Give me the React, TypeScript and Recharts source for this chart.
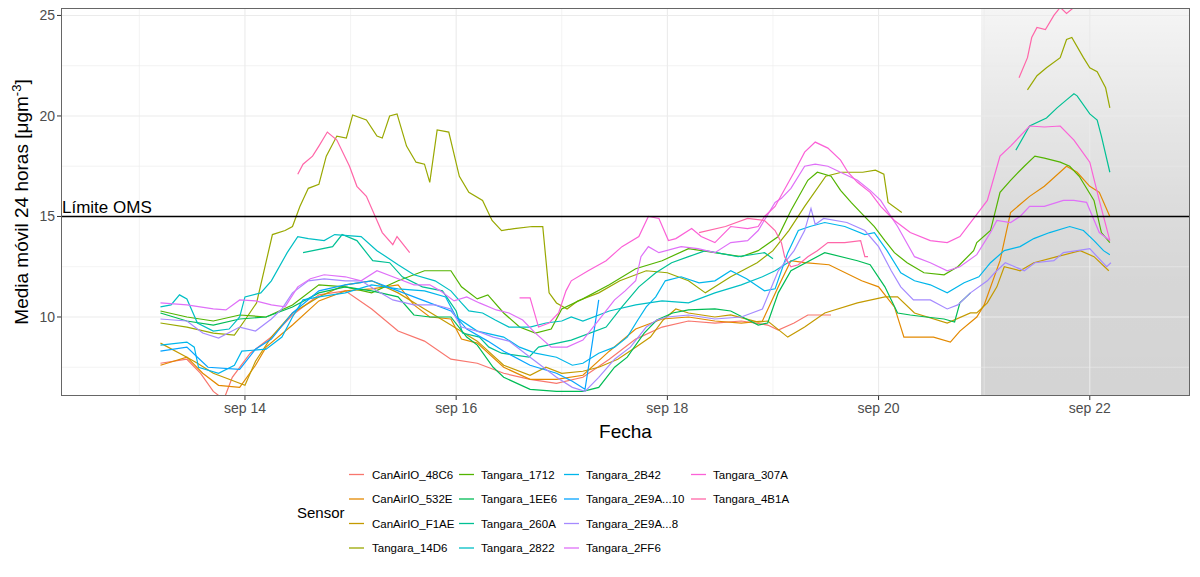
import React from "react";
import { LineChart, Line, XAxis, YAxis, ReferenceLine, ReferenceArea } from "recharts";

// Rolling 24 h mean per sensor, [day of September, µg/m³]; null breaks the line.
type Pt = [number, number | null];

const canairio48C6: Pt[] = [[13.2,7.7],[13.45,7.9],[13.58,7.2],[13.7,6.3],[13.8,5.9],[13.88,7.0],[14.05,8.2],[14.25,9.0],[14.45,10.1],[14.7,11.1],[14.95,11.3],[15.2,10.4],[15.45,9.3],[15.7,8.8],[15.95,7.9],[16.2,7.7],[16.45,7.2],[16.7,6.9],[16.95,6.7],[17.2,7.0],[17.45,7.9],[17.7,8.9],[17.95,9.5],[18.2,9.8],[18.45,9.7],[18.7,9.8],[18.95,9.6],[19.05,9.35],[19.2,9.7],[19.33,10.1],[19.55,10.1]];

const canairio532E: Pt[] = [[13.2,7.6],[13.45,8.0],[13.6,7.2],[13.75,6.6],[13.95,6.5],[14.1,7.6],[14.2,8.5],[14.45,9.6],[14.7,10.8],[14.95,11.3],[15.2,11.4],[15.45,11.6],[15.6,10.6],[15.75,10.0],[15.95,9.9],[16.05,8.9],[16.2,8.7],[16.45,7.5],[16.7,6.9],[16.95,6.9],[17.2,7.1],[17.45,8.3],[17.7,9.4],[17.95,9.9],[18.2,10.0],[18.45,9.8],[18.7,9.7],[18.9,9.8],[19.05,11.5],[19.17,12.8],[19.3,12.7],[19.53,12.6],[19.84,11.8],[20.0,11.5],[20.15,10.5],[20.24,9.0],[20.37,9.0],[20.52,9.0],[20.68,8.75],[20.77,9.3],[20.93,10.0],[21.0,10.6],[21.15,12.8],[21.25,15.2],[21.43,16.0],[21.57,16.5],[21.78,17.5],[21.88,17.2],[22.0,16.5],[22.09,16.2],[22.19,15.0]];

const canairioF1AE: Pt[] = [[13.2,8.7],[13.45,8.0],[13.55,7.7],[13.7,7.2],[13.85,6.9],[14.0,6.6],[14.1,7.8],[14.25,9.0],[14.45,10.2],[14.7,11.0],[14.95,11.6],[15.2,11.8],[15.45,11.2],[15.7,10.4],[15.95,9.6],[16.2,8.8],[16.45,7.6],[16.7,7.1],[16.85,7.5],[17.0,7.2],[17.2,7.3],[17.35,7.5],[17.53,7.9],[17.7,8.5],[17.84,9.0],[17.96,9.85],[18.08,10.4],[18.2,10.2],[18.45,10.0],[18.6,10.1],[18.86,9.75],[18.95,9.8],[19.14,9.0],[19.3,9.5],[19.49,10.2],[19.8,10.7],[20.06,11.0],[20.18,11.0],[20.34,10.2],[20.65,9.7],[20.87,10.2],[20.93,10.2],[21.03,10.7],[21.12,11.5],[21.19,12.5],[21.34,12.3],[21.47,12.7],[21.69,13.0],[21.91,13.3],[22.04,13.0],[22.18,12.3]];

const tangara14D6: Pt[] = [[13.2,9.7],[13.45,9.5],[13.7,9.2],[13.9,9.1],[14.0,9.85],[14.11,10.7],[14.26,14.1],[14.38,14.3],[14.45,14.5],[14.52,15.5],[14.6,16.4],[14.7,16.6],[14.77,18.0],[14.87,19.0],[14.96,18.9],[15.02,20.05],[15.15,19.8],[15.25,19.0],[15.3,18.9],[15.37,20.0],[15.44,20.1],[15.53,18.5],[15.62,17.7],[15.7,17.6],[15.75,16.7],[15.82,19.3],[15.93,19.2],[16.03,17.0],[16.12,16.2],[16.25,15.8],[16.34,14.8],[16.43,14.3],[16.55,14.4],[16.72,14.5],[16.82,14.5],[16.88,11.2],[16.95,10.7],[17.05,10.4],[17.15,10.8],[17.35,11.2],[17.55,11.8],[17.8,12.3],[18.0,12.2],[18.2,11.8],[18.36,11.2],[18.6,12.0],[18.85,12.7],[19.0,13.3],[19.15,14.3],[19.3,15.5],[19.5,17.0],[19.65,17.2],[19.85,17.2],[19.97,17.3],[20.05,17.1],[20.09,15.7],[20.22,15.2],[20.5,null],[21.41,21.3],[21.5,22.0],[21.59,22.4],[21.72,22.9],[21.78,23.8],[21.83,23.9],[21.94,22.9],[22.0,22.4],[22.07,22.2],[22.15,21.4],[22.19,20.4]];

const tangara1712: Pt[] = [[13.2,10.3],[13.45,10.0],[13.7,9.8],[13.95,10.1],[14.2,10.0],[14.45,10.6],[14.7,11.6],[14.95,11.5],[15.2,11.2],[15.45,11.8],[15.7,12.3],[15.95,12.3],[16.05,11.5],[16.2,10.9],[16.3,11.1],[16.45,10.2],[16.6,9.5],[16.75,9.2],[16.9,9.4],[17.0,10.4],[17.2,10.9],[17.45,11.6],[17.7,12.4],[17.95,12.8],[18.2,13.4],[18.45,13.2],[18.7,13.0],[18.86,13.3],[19.05,14.0],[19.17,15.3],[19.33,16.8],[19.42,17.2],[19.55,17.0],[19.64,16.3],[19.74,15.7],[19.83,15.2],[19.96,14.5],[20.06,13.8],[20.15,13.2],[20.27,12.7],[20.43,12.2],[20.62,12.1],[20.75,12.5],[20.9,13.3],[20.93,13.7],[21.06,14.3],[21.15,16.2],[21.25,16.8],[21.38,17.5],[21.48,18.0],[21.57,17.9],[21.72,17.7],[21.81,17.5],[21.9,17.0],[22.04,15.8],[22.11,14.2],[22.19,13.7]];

const tangara1EE6: Pt[] = [[13.2,10.2],[13.45,9.8],[13.7,9.6],[13.95,9.9],[14.2,10.0],[14.45,10.5],[14.7,11.2],[14.95,11.5],[15.2,11.3],[15.45,11.0],[15.6,10.1],[15.75,10.0],[15.95,10.0],[16.1,9.0],[16.2,8.6],[16.35,7.5],[16.45,7.0],[16.7,6.4],[16.95,6.3],[17.2,6.3],[17.35,6.5],[17.5,7.5],[17.62,8.0],[17.78,9.2],[17.9,9.85],[18.05,10.2],[18.2,10.35],[18.45,10.4],[18.6,10.3],[18.86,9.6],[18.95,9.7],[19.05,11.2],[19.17,12.3],[19.49,13.2],[19.8,12.8],[19.92,12.6],[20.06,11.5],[20.18,10.2],[20.3,10.1],[20.45,10.0],[20.62,9.9],[20.72,9.75],[20.77,10.7],[20.87,11.2]];

const tangara260A: Pt[] = [[14.55,13.2],[14.83,13.5],[14.92,14.1],[15.06,13.8],[15.21,12.8],[15.37,12.7],[15.49,12.0],[15.68,11.5],[15.87,11.3],[16.0,10.3],[16.06,9.2],[16.22,9.0],[16.31,8.5],[16.43,8.2],[16.69,8.0],[16.78,8.5],[17.09,8.85],[17.42,9.5],[17.57,10.5],[17.73,11.5],[17.89,12.2],[18.04,12.7],[18.2,13.0],[18.36,13.3],[18.67,13.0],[18.92,13.2],[19.0,12.9],[19.5,null],[21.3,18.3],[21.43,19.5],[21.59,19.9],[21.69,20.4],[21.78,20.8],[21.85,21.1],[21.88,21.0],[22.0,20.1],[22.07,19.8],[22.11,19.0],[22.19,17.2]];

const tangara2822: Pt[] = [[13.2,10.5],[13.3,10.6],[13.38,11.1],[13.45,10.9],[13.55,9.7],[13.7,9.3],[13.85,9.4],[13.95,10.0],[14.0,11.0],[14.15,11.2],[14.25,11.8],[14.4,13.2],[14.5,14.0],[14.6,13.9],[14.75,13.8],[14.85,14.1],[15.1,14.0],[15.25,13.3],[15.45,12.6],[15.6,12.1],[15.8,11.8],[15.95,11.3],[16.05,10.7],[16.12,10.3],[16.25,10.2],[16.37,9.85],[16.5,9.5],[16.7,9.5],[16.85,9.7],[17.0,9.8],[17.09,10.0],[17.2,9.8],[17.45,10.3],[17.7,10.6],[17.95,10.8],[18.2,10.7],[18.45,11.2],[18.7,11.6],[18.9,12.0],[19.02,12.3],[19.14,12.7],[19.26,13.0]];

const tangara2B42: Pt[] = [[13.2,8.6],[13.45,8.75],[13.52,8.5],[13.56,7.5],[13.75,7.2],[13.9,7.6],[13.97,8.3],[14.2,8.4],[14.35,9.0],[14.45,10.0],[14.55,10.85],[14.7,11.0],[14.95,11.2],[15.2,11.6],[15.45,11.4],[15.7,11.3],[15.9,11.0],[16.0,10.0],[16.2,9.3],[16.45,9.0],[16.6,8.5],[16.75,8.2],[16.95,8.0],[17.1,7.6],[17.2,7.7],[17.35,8.2],[17.5,8.5],[17.62,9.0],[17.72,9.85],[17.8,10.5],[17.89,11.0],[17.98,11.8],[18.13,12.0],[18.3,11.7],[18.45,11.8],[18.6,12.3],[18.75,11.9],[18.92,11.3],[19.02,11.4],[19.08,12.3],[19.14,13.2],[19.24,14.3],[19.35,14.5],[19.49,14.7],[19.68,14.5],[19.87,14.1],[19.96,14.2],[20.08,13.3],[20.21,12.2],[20.34,11.8],[20.49,11.6],[20.65,11.2],[20.81,11.7],[20.95,12.0],[21.06,12.7],[21.19,13.3],[21.34,13.5],[21.47,13.9],[21.62,14.2],[21.81,14.5],[21.94,14.3],[22.04,13.8],[22.13,13.3],[22.19,13.1]];

const tangara2E9A10: Pt[] = [[13.2,8.3],[13.45,8.5],[13.55,8.0],[13.65,7.5],[13.95,7.4],[14.1,8.4],[14.25,8.9],[14.45,10.2],[14.7,11.3],[14.95,11.6],[15.2,11.8],[15.45,11.3],[15.7,10.8],[15.95,10.3],[16.1,9.4],[16.3,8.8],[16.45,8.3],[16.7,7.6],[16.95,7.2],[17.1,6.8],[17.22,6.4],[17.28,8.4],[17.35,10.85]];

const tangara2E9A8: Pt[] = [[13.2,9.9],[13.45,9.8],[13.6,9.2],[13.75,8.95],[13.95,9.5],[14.1,9.3],[14.25,9.9],[14.35,10.4],[14.45,11.2],[14.6,11.8],[14.75,11.9],[14.95,11.8],[15.1,11.8],[15.25,11.3],[15.4,10.85],[15.6,10.6],[15.8,10.6],[15.95,10.4],[16.05,9.5],[16.2,9.3],[16.35,9.0],[16.5,8.8],[16.7,8.0],[16.95,7.0],[17.1,6.5],[17.22,6.3],[17.35,7.0],[17.5,7.9],[17.65,8.5],[17.8,9.5],[17.9,9.85],[18.0,10.0],[18.2,10.1],[18.45,9.9],[18.7,10.0],[18.9,10.4],[19.05,12.3],[19.2,13.3],[19.3,14.3],[19.36,15.4],[19.4,14.6],[19.48,14.9],[19.7,14.7],[19.87,14.3],[20.0,13.5],[20.12,12.3],[20.21,11.5],[20.33,10.85],[20.49,10.85],[20.65,10.4],[20.75,10.6],[20.87,11.2],[21.03,11.8],[21.1,12.2],[21.2,12.7],[21.29,12.5],[21.38,12.3],[21.48,12.7],[21.66,12.8],[21.75,13.2],[21.88,13.3],[22.0,13.4],[22.07,13.0],[22.16,12.5],[22.2,12.7]];

const tangara2FF6: Pt[] = [[13.2,10.7],[13.45,10.6],[13.7,10.4],[13.82,10.35],[13.95,10.85],[14.1,10.8],[14.25,10.6],[14.38,10.5],[14.5,11.5],[14.62,11.9],[14.75,12.1],[14.95,12.0],[15.1,11.8],[15.25,12.3],[15.45,11.9],[15.6,11.6],[15.75,11.6],[15.85,11.3],[15.98,10.8],[16.1,11.0],[16.22,10.7],[16.38,10.35],[16.5,10.2],[16.63,9.85],[16.75,9.2],[16.9,8.5],[17.05,8.5],[17.2,8.85],[17.35,9.85],[17.5,10.85],[17.6,11.3],[17.7,11.8],[17.75,13.0],[17.82,13.5],[17.92,13.2],[18.13,13.5],[18.29,13.4],[18.45,13.2],[18.6,13.7],[18.76,13.8],[18.86,14.3],[19.02,15.7],[19.08,15.9],[19.17,16.4],[19.3,17.5],[19.4,17.6],[19.52,17.5],[19.64,17.2],[19.8,16.8],[19.92,16.3],[20.02,15.8],[20.08,15.3],[20.18,14.5],[20.34,13.0],[20.49,12.7],[20.65,12.3],[20.77,12.5],[20.93,13.1],[21.06,14.2],[21.12,14.8],[21.25,14.7],[21.34,15.0],[21.43,15.5],[21.57,15.5],[21.75,15.8],[21.85,15.8],[21.97,15.7],[22.09,14.2],[22.19,13.8]];

const tangara307A: Pt[] = [[16.6,10.95],[16.7,10.95],[16.78,9.5],[16.88,9.7],[16.97,10.2],[17.04,11.3],[17.09,11.8],[17.25,12.3],[17.42,12.8],[17.57,13.5],[17.73,14.0],[17.82,15.0],[17.92,14.9],[18.01,13.8],[18.08,13.9],[18.23,14.4],[18.32,14.0],[18.45,13.7],[18.6,14.5],[18.76,14.4],[18.86,14.5],[18.92,15.0],[19.02,15.5],[19.2,17.2],[19.3,18.2],[19.4,18.7],[19.52,18.4],[19.64,17.8],[19.71,17.2],[19.8,16.7],[19.92,16.2],[20.02,15.5],[20.15,14.8],[20.3,14.2],[20.49,13.8],[20.65,13.7],[20.77,14.0],[20.93,15.1],[21.03,15.8],[21.15,18.0],[21.25,18.5],[21.43,19.5],[21.57,19.45],[21.72,19.5],[21.85,18.8],[22.0,17.7],[22.09,15.8],[22.19,13.8]];

const tangara4B1A: Pt[] = [[14.5,17.1],[14.55,17.6],[14.64,18.0],[14.7,18.5],[14.78,19.2],[14.87,18.8],[14.99,17.5],[15.06,16.5],[15.15,16.0],[15.25,14.8],[15.3,14.2],[15.4,13.6],[15.44,14.0],[15.56,13.2],[16.0,null],[18.3,14.2],[18.55,14.5],[18.76,14.9],[18.92,14.8],[19.02,14.3],[19.08,13.7],[19.11,13.0],[19.17,12.5],[19.24,12.6],[19.33,13.0],[19.42,13.3],[19.52,13.7],[19.68,13.7],[19.83,13.8],[19.87,13.0],[19.9,13.0],[20.5,null],[21.33,21.9],[21.41,22.9],[21.45,23.9],[21.5,24.4],[21.58,24.3],[21.66,25.0],[21.72,25.4],[21.78,25.1],[21.85,25.4],[21.92,26.0]];

const sensorNames = [
  "CanAirIO_48C6", "CanAirIO_532E", "CanAirIO_F1AE", "Tangara_14D6",
  "Tangara_1712", "Tangara_1EE6", "Tangara_260A", "Tangara_2822",
  "Tangara_2B42", "Tangara_2E9A...10", "Tangara_2E9A...8", "Tangara_2FF6",
  "Tangara_307A", "Tangara_4B1A",
];

// ggplot hue palette for 14 groups
const sensorColors = [
  "#F8766D", "#E38900", "#C49A00", "#99A800", "#53B400", "#00BC56", "#00C094",
  "#00BFC4", "#00B6EB", "#06A4FF", "#A58AFF", "#DF70F8", "#FB61D7", "#FF66A8",
];

const sensorPoints = [
  canairio48C6, canairio532E, canairioF1AE, tangara14D6, tangara1712, tangara1EE6, tangara260A,
  tangara2822, tangara2B42, tangara2E9A10, tangara2E9A8, tangara2FF6, tangara307A, tangara4B1A,
];

const xTicks = [14, 16, 18, 20, 22];
const xMinor = [13, 15, 17, 19, 21];
const yTicks = [10, 15, 20, 25];
const yMinor = [7.5, 12.5, 17.5, 22.5];
const omsLimit = 15;
const forecastStart = 20.97;

const X_DOMAIN: [number, number] = [12.258, 22.949];
const Y_DOMAIN: [number, number] = [6.07, 25.37];

const FONT = "'Liberation Sans', Arial, Helvetica, sans-serif";
const PLOT = { left: 61, top: 8, right: 1190, bottom: 396 };

const series = sensorNames.map((name, i) => ({
  name,
  color: sensorColors[i],
  rows: sensorPoints[i].map(([t, v]) => ({ t, v })),
}));

const legendRows = [474.5, 499, 523.5, 548];
const legendKeyX = [349, 459, 564, 691];
const legendTextX = [372, 481, 586, 713];

export default function App() {
  return (
    <div style={{ position: "absolute", left: 0, top: 0, width: 1200, height: 577, background: "#fff", fontFamily: FONT }}>
      <LineChart width={1200} height={577} margin={{ top: 8, right: 10, bottom: 141, left: 0 }}>
        <defs>
          <linearGradient id="shade" x1="0" y1="0" x2="0" y2="1">
            <stop offset="0%" stopColor="#000" stopOpacity={0.04} />
            <stop offset="12%" stopColor="#000" stopOpacity={0.065} />
            <stop offset="30%" stopColor="#000" stopOpacity={0.1} />
            <stop offset="50%" stopColor="#000" stopOpacity={0.135} />
            <stop offset="70%" stopColor="#000" stopOpacity={0.16} />
            <stop offset="100%" stopColor="#000" stopOpacity={0.17} />
          </linearGradient>
        </defs>
        <XAxis
          type="number"
          dataKey="t"
          domain={X_DOMAIN}
          ticks={xTicks}
          tickFormatter={(v) => `sep ${v}`}
          allowDataOverflow
          axisLine={false}
          tickLine={{ stroke: "#333", strokeWidth: 1 }}
          tickSize={4}
          tickMargin={3}
          height={40}
          tick={{ fill: "#4D4D4D", fontSize: 14, fontFamily: FONT }}
        />
        <YAxis
          type="number"
          domain={Y_DOMAIN}
          ticks={yTicks}
          allowDataOverflow
          axisLine={false}
          tickLine={{ stroke: "#333", strokeWidth: 1 }}
          tickSize={4}
          tickMargin={2}
          width={61}
          tick={{ fill: "#4D4D4D", fontSize: 14, fontFamily: FONT }}
        />
        {yMinor.map((y) => (
          <ReferenceLine key={`ym${y}`} y={y} stroke="#EBEBEB" strokeWidth={0.6} />
        ))}
        {xMinor.map((x) => (
          <ReferenceLine key={`xm${x}`} x={x} stroke="#EBEBEB" strokeWidth={0.6} />
        ))}
        {yTicks.map((y) => (
          <ReferenceLine key={`y${y}`} y={y} stroke="#EBEBEB" strokeWidth={1.1} />
        ))}
        {xTicks.map((x) => (
          <ReferenceLine key={`x${x}`} x={x} stroke="#EBEBEB" strokeWidth={1.1} />
        ))}
        <ReferenceArea
          x1={forecastStart}
          x2={X_DOMAIN[1]}
          y1={Y_DOMAIN[0]}
          y2={Y_DOMAIN[1]}
          fill="url(#shade)"
          fillOpacity={1}
          stroke="none"
          ifOverflow="hidden"
        />
        {series.map((s) => (
          <Line
            key={s.name}
            data={s.rows}
            dataKey="v"
            name={s.name}
            type="linear"
            stroke={s.color}
            strokeWidth={1.2}
            dot={false}
            activeDot={false}
            connectNulls={false}
            isAnimationActive={false}
          />
        ))}
        <ReferenceLine y={omsLimit} stroke="#000" strokeWidth={1.4} />
      </LineChart>

      {/* panel border */}
      <div
        style={{
          position: "absolute",
          left: PLOT.left,
          top: PLOT.top,
          width: PLOT.right - PLOT.left,
          height: PLOT.bottom - PLOT.top,
          border: "1px solid #666",
          boxSizing: "border-box",
          pointerEvents: "none",
        }}
      />

      <div style={{ position: "absolute", left: 62, top: 199, fontSize: 17, lineHeight: "17px", color: "#000", whiteSpace: "nowrap" }}>
        Límite OMS
      </div>

      <div
        style={{
          position: "absolute",
          left: 22,
          top: 202,
          transform: "translate(-50%, -50%) rotate(-90deg)",
          fontSize: 19,
          whiteSpace: "nowrap",
          color: "#000",
        }}
      >
        Media móvil 24 horas [μgm<sup style={{ fontSize: 13, verticalAlign: "7px", lineHeight: 0 }}>-3</sup>]
      </div>

      <div
        style={{
          position: "absolute",
          left: (PLOT.left + PLOT.right) / 2,
          top: 432,
          transform: "translate(-50%, -50%)",
          fontSize: 19,
          color: "#000",
        }}
      >
        Fecha
      </div>

      {/* legend */}
      <div style={{ position: "absolute", left: 297, top: 512, transform: "translateY(-50%)", fontSize: 15, color: "#000" }}>
        Sensor
      </div>
      <svg
        width={1200}
        height={577}
        style={{ position: "absolute", left: 0, top: 0, pointerEvents: "none" }}
      >
        {series.map((s, i) => {
          const col = Math.floor(i / 4);
          const y = legendRows[i % 4];
          return (
            <line
              key={`key${s.name}`}
              x1={legendKeyX[col]}
              x2={legendKeyX[col] + 15}
              y1={y}
              y2={y}
              stroke={s.color}
              strokeWidth={1.3}
            />
          );
        })}
      </svg>
      {series.map((s, i) => {
        const col = Math.floor(i / 4);
        const cy = legendRows[i % 4];
        return (
          <div
            key={`lg${s.name}`}
            style={{
              position: "absolute",
              left: legendTextX[col],
              top: cy,
              transform: "translateY(-50%)",
              fontSize: 11.5,
              color: "#000",
              whiteSpace: "nowrap",
            }}
          >
            {s.name}
          </div>
        );
      })}
    </div>
  );
}
